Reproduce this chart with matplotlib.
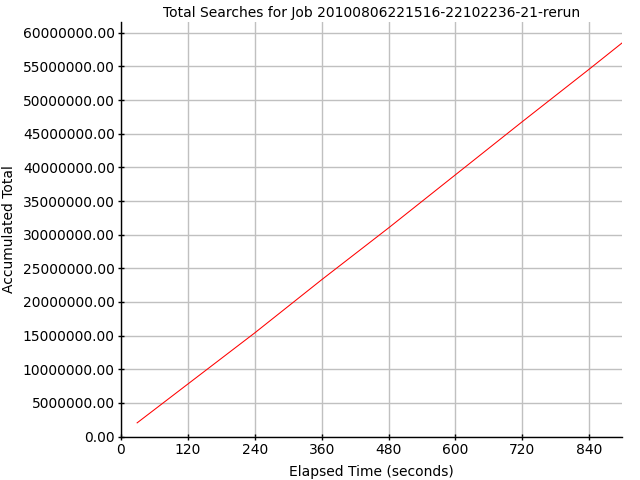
import matplotlib
matplotlib.use('Agg')
import matplotlib.pyplot as plt

# values (seconds, searches)
elapsed = [29, 120, 240, 360, 480, 600, 720, 840, 899]
total = [2030000, 7800000, 15400000, 23300000, 31000000, 38900000,
         46800000, 54600000, 58500000]

x_ticks = [0, 120, 240, 360, 480, 600, 720, 840]
y_ticks = list(range(0, 60000001, 5000000))

plt.rcParams['font.family'] = 'DejaVu Sans'

fig = plt.figure(figsize=(6.4, 4.8), dpi=100)
ax = fig.add_axes([0.189, 0.0906, 0.783, 0.8634])

ax.plot(elapsed, total, color='#ff0000', linewidth=0.75)

ax.set_xlim(0, 899)
ax.set_ylim(0, 61600000)
ax.set_xticks(x_ticks)
ax.set_yticks(y_ticks)
ax.set_yticklabels([f'{v:.2f}' for v in y_ticks])

ax.grid(True, color='#c0c0c0', linewidth=1)
ax.set_axisbelow(True)
for side in ('top', 'right'):
    ax.spines[side].set_visible(False)
for side in ('left', 'bottom'):
    ax.spines[side].set_linewidth(1)
    ax.spines[side].set_color('black')

ax.tick_params(direction='inout', length=5, width=1, labelsize=10, pad=2)

ax.set_title('Total Searches for Job 20100806221516-22102236-21-rerun',
             fontsize=10, pad=4)
ax.set_xlabel('Elapsed Time (seconds)', fontsize=10, labelpad=6)
ax.set_ylabel('Accumulated Total', fontsize=10, labelpad=5)

fig.savefig('out.png', dpi=100)
